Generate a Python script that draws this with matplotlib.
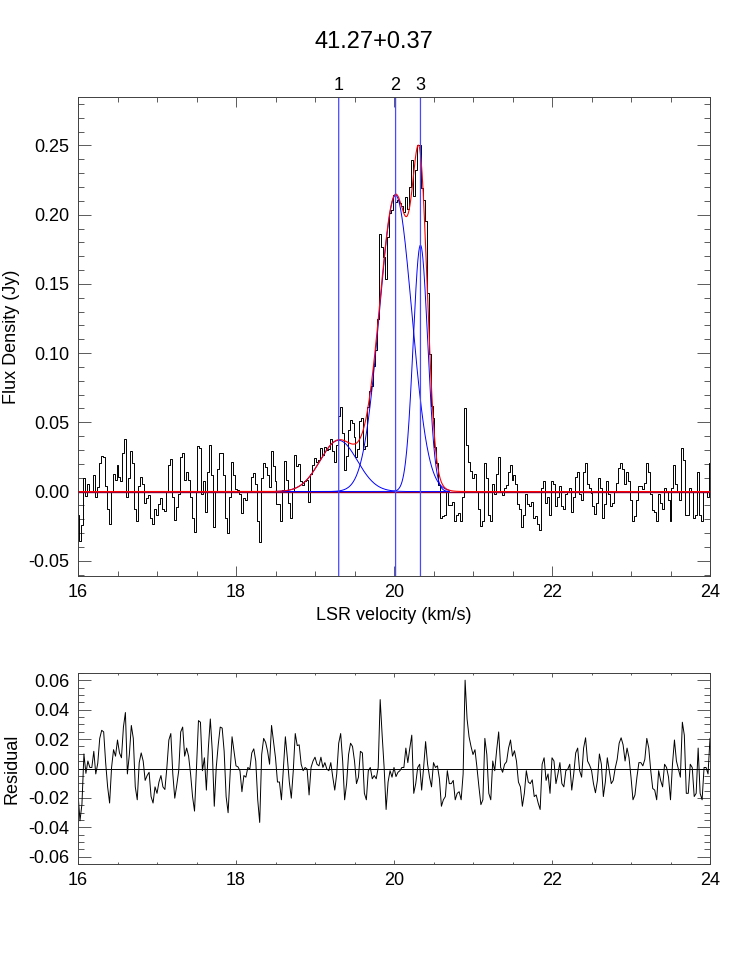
import numpy as np
import matplotlib
matplotlib.use("Agg")
import matplotlib.pyplot as plt
from matplotlib.ticker import MultipleLocator

plt.rcParams['font.family'] = ['Liberation Sans', 'DejaVu Sans']
plt.rcParams['axes.unicode_minus'] = False

# source name and channel grid
source = "41.27+0.37"
v_start, v_step = 16.0, 0.025

# fit residual per channel, mJy
resid_mjy = [
    -16.9, -35.6, -24.2, 9.9, -3.3, 5.1, 0.7, 0.7, 11.7, -3.7,
    3.5, 20.5, 26.0, 24.9, 4.0, -12.5, -23.5, 0.7, 12.8, 8.4,
    19.4, 10.6, 7.3, 28.2, 38.1, -3.7, 9.5, 29.3, 20.5, -12.5,
    -21.3, 4.0, 10.6, 5.1, -8.1, -4.8, -2.6, -19.1, -23.5, -12.5,
    -16.9, -9.2, -4.8, -12.5, -14.3, 0.7, 19.4, 23.8, -3.7, -20.2,
    -11.4, -1.5, 24.9, 28.2, 8.4, 13.9, 8.4, -3.7, -19.1, -29.0,
    0.7, 32.6, 31.5, -1.5, 7.3, -14.7, 13.9, 33.7, 11.7, -25.7,
    0.7, 16.1, 28.2, 27.5, 11.7, -19.1, -30.1, -3.7, 21.6, 11.7,
    1.8, 1.1, -1.5, -15.8, -4.8, -5.9, 0.7, -0.4, 10.6, 13.4,
    5.1, -21.3, -36.7, 9.5, 20.5, 17.8, 11.7, 2.9, 29.3, 18.3,
    7.3, -9.2, -9.2, -21.3, 0.7, 21.6, 7.3, -9.2, -20.2, -1.5,
    23.8, 15.6, 16.1, 2.9, -1.5, 0.7, -0.4, -18.0, 0.7, 5.1,
    7.7, 2.9, 1.8, 7.7, 0.7, 4.0, -0.4, -1.5, 4.0, -5.9,
    -14.7, -3.7, 17.2, 23.8, 5.1, -21.3, -10.3, 9.5, 17.2, 15.0,
    5.1, -10.3, -5.9, 11.7, 10.6, -16.9, -21.3, -1.5, 0.7, -7.0,
    -4.8, -7.0, 0.7, 46.9, 22.7, 0.7, -27.9, -9.2, -1.5, -5.9,
    0.7, -5.5, -2.6, -1.5, 0.7, 0.7, 13.9, 4.0, 13.9, 22.7,
    -16.9, -10.3, 0.7, 2.9, -14.7, 0.7, 18.3, 2.9, -5.9, -12.5,
    4.0, 0.7, 1.8, -7.0, -25.7, -21.3, -19.1, -1.5, -10.3, -10.3,
    -8.1, -21.3, -16.9, -15.8, -21.3, -3.7, 60.1, 33.7, 21.6, 15.0,
    9.5, 12.8, 0.7, -12.5, -24.6, -21.3, 20.5, 9.5, -16.9, -21.3,
    5.1, -1.5, 12.8, 24.9, 0.7, -2.6, 2.9, 4.6, 13.9, 19.4,
    8.4, 12.1, 5.1, -9.2, -12.5, -25.7, -16.9, -1.5, -9.2, -10.3,
    -7.7, -19.1, -18.0, -23.5, -27.9, 2.9, 7.3, -8.1, -3.7, -16.9,
    7.3, 5.1, -10.3, -3.7, 4.0, -10.3, -12.5, -1.5, -0.4, 2.9,
    -14.7, -3.7, 10.6, 13.9, -1.5, -5.9, 13.9, 20.9, 5.1, 2.4,
    -1.1, -10.3, -16.5, -8.1, 9.9, 2.9, -19.1, -9.2, 7.3, -1.5,
    -10.3, -8.1, 0.2, 6.2, 17.2, 20.9, 16.1, 5.1, 13.9, 7.3,
    -5.9, -21.3, -18.0, -5.9, 4.0, 4.0, 1.8, 6.2, 20.5, 13.9,
    -1.5, -13.6, -14.7, -21.3, -1.5, -8.1, -12.5, 2.9, 0.7, -5.9,
    -21.3, 2.9, 19.4, 5.1, -0.4, -5.9, 31.5, 22.7, -16.9, -16.9,
    2.9, 0.7, -19.1, -16.9, 13.9, -16.9, -21.3, 0.7, 0.7, -3.7,
    20.5,
]

# gaussian components of the fit
comp_labels = ["1", "2", "3"]
comp_amp = [0.037, 0.214, 0.178]      # Jy
comp_cen = [19.30, 20.02, 20.335]     # km/s
comp_sig = [0.235, 0.205, 0.092]      # km/s


def gauss(v, a, c, s):
    return a * np.exp(-0.5 * ((v - c) / s) ** 2)


resid = np.array(resid_mjy) / 1000.0
vel = v_start + v_step * np.arange(len(resid))
model_ch = sum(gauss(vel, a, c, s) for a, c, s in zip(comp_amp, comp_cen, comp_sig))
flux = model_ch + resid

vfine = np.linspace(16, 24, 1601)
model_fine = sum(gauss(vfine, a, c, s) for a, c, s in zip(comp_amp, comp_cen, comp_sig))
vcomp = np.linspace(18.5, 20.7, 600)

fig = plt.figure(figsize=(7.47, 9.61), dpi=100)
ax = fig.add_axes([78 / 747, 1 - 576 / 961, 632 / 747, 479 / 961])
ax2 = fig.add_axes([78 / 747, 1 - 864 / 961, 632 / 747, 191 / 961])

fs = 13

# ----- spectrum + fit -----
ax.step(vel, flux, where="mid", color="k", lw=0.7)
ax.axhline(0, color="#90003a", lw=1.0)
for a, c, s in zip(comp_amp, comp_cen, comp_sig):
    ax.plot(vcomp, gauss(vcomp, a, c, s), color="blue", lw=0.7)
ax.plot(vfine, model_fine, color="red", lw=0.8)
for lab, c in zip(comp_labels, comp_cen):
    ax.axvline(c, color="#4848ff", lw=0.9, snap=False)
    ax.text(c, 1.006, lab, transform=ax.get_xaxis_transform(),
            ha="center", va="bottom", fontsize=fs)

ax.set_xlim(16, 24)
ax.set_ylim(-0.061, 0.285)
ax.set_xlabel("LSR velocity (km/s)", fontsize=fs, labelpad=4)
ax.set_ylabel("Flux Density (Jy)", fontsize=fs, labelpad=6)
ax.yaxis.set_major_locator(MultipleLocator(0.05))
ax.yaxis.set_minor_locator(MultipleLocator(0.01))
ax.yaxis.set_major_formatter("{x:.2f}")

# ----- residual -----
ax2.plot(vel, resid, color="k", lw=0.7)
ax2.axhline(0, color="k", lw=0.7)
ax2.set_xlim(16, 24)
ax2.set_ylim(-0.065, 0.065)
ax2.set_ylabel("Residual", fontsize=fs, labelpad=6)
ax2.yaxis.set_major_locator(MultipleLocator(0.02))
ax2.yaxis.set_minor_locator(MultipleLocator(0.005))
ax2.yaxis.set_major_formatter("{x:.2f}")

for a_, xt in ((ax, 9.6), (ax2, 3.8)):
    a_.xaxis.set_major_locator(MultipleLocator(2))
    a_.xaxis.set_minor_locator(MultipleLocator(0.5))
    a_.tick_params(axis="both", which="both", direction="in", top=True, right=True,
                   labelsize=fs, width=0.6, color="0.25", pad=6)
    a_.tick_params(axis="x", which="major", length=xt * 0.72)
    a_.tick_params(axis="x", which="minor", length=xt * 0.36)
    a_.tick_params(axis="y", which="major", length=12.6 * 0.72)
    a_.tick_params(axis="y", which="minor", length=6.3 * 0.72)
    for sp in a_.spines.values():
        sp.set_linewidth(0.7)
        sp.set_color("0.25")

fig.text(0.5, 1 - 42 / 961, source, ha="center", va="center", fontsize=17)

fig.savefig("out.png", dpi=100)
